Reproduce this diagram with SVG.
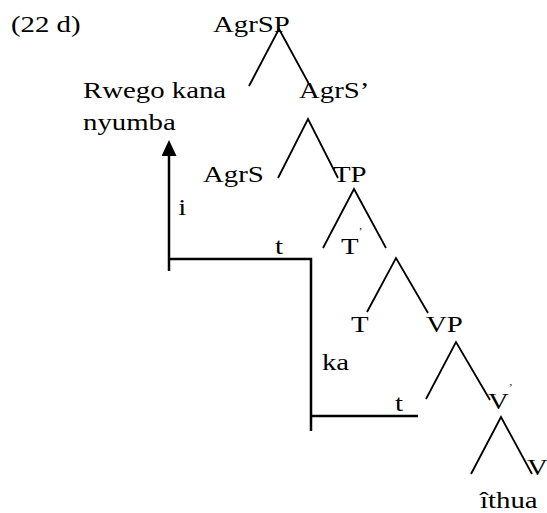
<svg xmlns="http://www.w3.org/2000/svg" width="547" height="513" viewBox="0 0 547 513">
<defs>
<style>
text{font-family:"Liberation Serif","Times New Roman",serif;font-size:24px;fill:#000}
.sup{font-size:10px}
.br{stroke:#000;stroke-width:1.8;fill:none;stroke-linecap:butt}
.mv{stroke:#000;stroke-width:2.5;fill:none}
</style>
<marker id="ah" viewBox="0 0 16 15" markerWidth="16" markerHeight="15" refX="0" refY="7.5" markerUnits="userSpaceOnUse" orient="auto">
<path d="M0,0 L16,7.5 L0,15 z" fill="#000"/>
</marker>
</defs>
<rect width="547" height="513" fill="#fff"/>
<g id="connectors">
<path class="br" d="M249,86 L279,29 L309,84"/>
<path class="br" d="M278,178 L308,119 L338,178"/>
<path class="br" d="M323,248 L354,189 L386,248"/>
<path class="br" d="M367,312 L396,258 L428,313"/>
<path class="br" d="M426,399 L456,342 L490,400"/>
<path class="br" d="M471,474 L501,417 L532,474"/>
<path class="mv" d="M169,271 V156" marker-end="url(#ah)"/>
<path class="mv" d="M169,259 H311 V431"/>
<path class="mv" d="M311,416 H418"/>
</g>
<g transform="scale(1.2,1)">
<g id="label-22d"><text x="9.2" y="32">(22 d)</text></g>
<g id="node-AgrSP"><text x="177.5" y="32">AgrSP</text></g>
<g id="node-subject"><text x="69.2" y="98">Rwego kana</text><text x="69.2" y="130">nyumba</text></g>
<g id="node-AgrSbar"><text x="249.2" y="98">AgrS’</text></g>
<g id="node-AgrS"><text x="169.2" y="182">AgrS</text></g>
<g id="node-TP"><text x="277.5" y="182">TP</text></g>
<g id="label-i"><text x="148.5" y="215">i</text></g>
<g id="label-t1"><text x="229.2" y="254">t</text></g>
<g id="node-Tbar"><text x="284.2" y="254">T<tspan class="sup" dy="-19">’</tspan></text></g>
<g id="node-T"><text x="292.5" y="332">T</text></g>
<g id="node-VP"><text x="355" y="332">VP</text></g>
<g id="label-ka"><text x="268.3" y="370">ka</text></g>
<g id="label-t2"><text x="329.2" y="411">t</text></g>
<g id="node-Vbar"><text x="406.7" y="409">V<tspan class="sup" dy="-18">’</tspan></text></g>
<g id="node-V"><text x="439.2" y="475">V</text></g>
<g id="label-ithua"><text x="400" y="508">îthua</text></g>
</g>
</svg>
